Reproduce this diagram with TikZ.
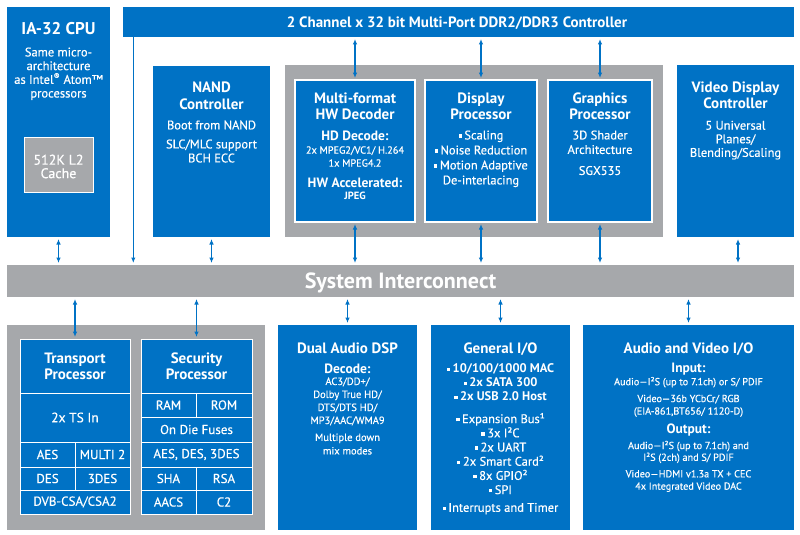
\documentclass[tikz,border=0pt]{standalone}
\usepackage{fontspec}
\setmainfont{PT Sans}
\newfontfamily\rg{PT Sans}[FakeBold=0.4]
\usetikzlibrary{arrows.meta}
\definecolor{iblue}{RGB}{0,114,197}
\definecolor{igray}{RGB}{166,168,171}
\newcommand\fs[2]{\fontsize{#1}{#2}\selectfont}
\newcommand\sqbul{\rule[0.14em]{0.26em}{0.26em}\hspace{0.2em}}
\tikzset{
  box/.style={fill=iblue, inner sep=0pt, outer sep=0pt},
  gbox/.style={fill=igray, inner sep=0pt, outer sep=0pt},
  wbord/.style={draw=white, line width=1.2pt},
  tx/.style={text=white, inner sep=0pt, outer sep=0pt, align=center},
  cell/.style={fill=iblue, draw=white, line width=1pt, inner sep=0pt, outer sep=0pt, text=white, align=center, font={\rg\fs{13}{15}}},
  bi/.style={draw=iblue, line width=1.2pt, {Latex[length=5.5pt,width=4.5pt]}-{Latex[length=5.5pt,width=4.5pt]}, shorten <=2pt, shorten >=2pt},
  uni/.style={draw=iblue, line width=1.2pt, -{Latex[length=5.5pt,width=4.5pt]}, shorten >=2pt}
}
\begin{document}
\begin{tikzpicture}[x=1pt,y=-1pt]
\useasboundingbox[fill=white] (0,0) rectangle (800,535);
% ---------- boxes
\node[box, minimum width=103pt, minimum height=230pt] (cpu) at (58.5,122) {};
\node[gbox, wbord, line width=1pt, minimum width=69pt, minimum height=55pt] (cache) at (58.5,164.5) {};
\node[box, minimum width=671pt, minimum height=30pt] (ddr) at (458.5,22) {};
\node[box, minimum width=117pt, minimum height=171pt] (nand) at (211.5,151.5) {};
\node[gbox, minimum width=378pt, minimum height=172pt] (mid) at (474,151) {};
\node[box, wbord, minimum width=120pt, minimum height=142pt] (mfd) at (355,151) {};
\node[box, wbord, minimum width=112pt, minimum height=142pt] (disp) at (481,151) {};
\node[box, wbord, minimum width=104pt, minimum height=142pt] (gfx) at (600,151) {};
\node[box, minimum width=117pt, minimum height=172pt] (vdc) at (735.5,151) {};
\node[gbox, minimum width=787pt, minimum height=32pt] (sys) at (400.5,281) {};
\node[gbox, minimum width=258pt, minimum height=205pt] (low) at (136,427.5) {};
\node[box, minimum width=139pt, minimum height=205pt] (dsp) at (347.5,427.5) {};
\node[box, minimum width=139pt, minimum height=205pt] (gio) at (500.5,427.5) {};
\node[box, minimum width=211pt, minimum height=205pt] (avio) at (688.5,427.5) {};
% ---------- transport processor cells
\node[cell, font={\fs{15}{16}\bfseries}, minimum width=110pt, minimum height=54pt] (tph) at (75,366) {Transport\\Processor};
\node[cell, font={\rg\fs{13.5}{15}}, minimum width=110pt, minimum height=49pt] (tpts) at (75,417.5) {2x TS In};
\node[cell, minimum width=55pt, minimum height=25pt] (aes) at (47.5,454.5) {AES};
\node[cell, minimum width=55pt, minimum height=25pt] (multi) at (102.5,454.5) {MULTI 2};
\node[cell, minimum width=55pt, minimum height=23pt] (des) at (47.5,478.5) {DES};
\node[cell, minimum width=55pt, minimum height=23pt] (tdes) at (102.5,478.5) {3DES};
\node[cell, minimum width=110pt, minimum height=24pt] (dvb) at (75,502) {DVB-CSA/CSA2};
% ---------- security processor cells
\node[cell, font={\fs{15}{16}\bfseries}, minimum width=111pt, minimum height=54pt] (sph) at (196.5,366) {Security\\Processor};
\node[cell, minimum width=55pt, minimum height=24pt] (ram) at (168.5,405) {RAM};
\node[cell, minimum width=56pt, minimum height=24pt] (rom) at (224,405) {ROM};
\node[cell, minimum width=111pt, minimum height=25pt] (fuse) at (196.5,429.5) {On Die Fuses};
\node[cell, minimum width=111pt, minimum height=25pt] (saes) at (196.5,454.5) {AES, DES, 3DES};
\node[cell, minimum width=55pt, minimum height=23pt] (sha) at (168.5,478.5) {SHA};
\node[cell, minimum width=56pt, minimum height=23pt] (rsa) at (224,478.5) {RSA};
\node[cell, minimum width=55pt, minimum height=24pt] (aacs) at (168.5,502) {AACS};
\node[cell, minimum width=56pt, minimum height=24pt] (c2) at (224,502) {C2};
% ---------- texts
\node[tx, font={\fs{17}{20}\bfseries}, anchor=base] (cpuT) at (58.5,35) {IA-32 CPU};
\node[tx, font={\rg\fs{12.5}{13.7}}, anchor=north] (cpuB) at (58.5,47.5) {Same micro-\\architecture\\as Intel\textsuperscript{®} Atom™\\processors};
\node[tx, font={\rg\fs{14}{13.5}}] (cacheT) at (58.5,166.5) {512K L2\\Cache};
\node[tx, font={\fs{15}{16}\bfseries}, anchor=base] (ddrT) at (457,27.5) {2 Channel x 32 bit Multi-Port DDR2/DDR3 Controller};
\node[tx, font={\fs{22}{24}\bfseries}, anchor=base] (sysT) at (400.5,288.5) {System Interconnect};
\node[tx, font={\fs{15}{16.5}\bfseries}, anchor=north] (nandT) at (211.5,82) {NAND\\Controller};
\node[tx, font={\rg\fs{12.5}{14}}, anchor=north] (nandB) at (211.5,120.5) {Boot from NAND\\[5pt]SLC/MLC support\\BCH ECC};
\node[tx, font={\fs{15}{16}\bfseries}, anchor=north] (mfdT) at (355,92.6) {Multi-format\\HW Decoder};
\node[tx, font={\fs{13.5}{15}\bfseries}, anchor=base] (mfdA) at (355,140) {HD Decode:};
\node[tx, font={\rg\fs{10.3}{13}}, anchor=north] (mfdB) at (355,146.3) {2x MPEG2/VC1/ H.264\\1x MPEG4.2};
\node[tx, font={\fs{13.5}{15}\bfseries}, anchor=base] (mfdC) at (355,187) {HW Accelerated:};
\node[tx, font={\fs{10.5}{12}\bfseries}, anchor=base] (mfdD) at (355,199.7) {JPEG};
\node[tx, font={\fs{15}{16}\bfseries}, anchor=north] (dispT) at (481,92.6) {Display\\Processor};
\node[tx, font={\rg\fs{12.5}{15}}, anchor=north] (dispB) at (481,130.5) {\sqbul Scaling\\\sqbul Noise Reduction\\\sqbul Motion Adaptive\\De-interlacing};
\node[tx, font={\fs{15}{16}\bfseries}, anchor=north] (gfxT) at (600,92.6) {Graphics\\Processor};
\node[tx, font={\rg\fs{12.5}{14.5}}, anchor=north] (gfxB) at (600,130.5) {3D Shader\\Architecture\\[6.5pt]SGX535};
\node[tx, font={\fs{15}{16.5}\bfseries}, anchor=north] (vdcT) at (735.5,81.6) {Video Display\\Controller};
\node[tx, font={\rg\fs{12.5}{13.6}}, anchor=north] (vdcB) at (735.5,120.8) {5 Universal\\Planes/\\Blending/Scaling};
\node[tx, font={\fs{15}{16}\bfseries}, anchor=base] (dspT) at (347.5,353.3) {Dual Audio DSP};
\node[tx, font={\fs{13.5}{15}\bfseries}, anchor=base] (dspA) at (347.5,373.7) {Decode:};
\node[tx, font={\rg\fs{10.5}{13}}, anchor=north] (dspB) at (347.5,377.5) {AC3/DD+/\\Dolby True HD/\\DTS/DTS HD/\\MP3/AAC/WMA9};
\node[tx, font={\rg\fs{10.5}{13.5}}, anchor=north] (dspC) at (347.5,433.5) {Multiple down\\mix modes};
\node[tx, font={\fs{15}{16}\bfseries}, anchor=base] (gioT) at (500.5,353.3) {General I/O};
\node[tx, font={\fs{12.5}{14}\bfseries}, anchor=north] (gioA) at (500.5,363.8) {\sqbul 10/100/1000 MAC\\\sqbul 2x SATA 300\\\sqbul 2x USB 2.0 Host};
\node[tx, font={\rg\fs{12.5}{14.2}}, anchor=north] (gioB) at (500.5,413) {\sqbul Expansion Bus¹\\\sqbul 3x I²C\\\sqbul 2x UART\\\sqbul 2x Smart Card²\\\sqbul 8x GPIO²\\\sqbul SPI\\[3.5pt]\sqbul Interrupts and Timer};
\node[tx, font={\fs{15}{16}\bfseries}, anchor=base] (avT) at (688.5,353.3) {Audio and Video I/O};
\node[tx, font={\fs{13.5}{15}\bfseries}, anchor=base] (avA) at (688.5,372.7) {Input:};
\node[tx, font={\rg\fs{10.2}{12}}, anchor=base] (avB) at (688.5,385.2) {Audio—I²S (up to 7.1ch) or S/ PDIF};
\node[tx, font={\rg\fs{10.2}{12.5}}, anchor=north] (avC) at (688.5,394.8) {Video—36b YCbCr/ RGB\\(EIA-861,BT656/ 1120-D)};
\node[tx, font={\fs{13.5}{15}\bfseries}, anchor=base] (avD) at (688.5,433.2) {Output:};
\node[tx, font={\rg\fs{10.2}{11.8}}, anchor=north] (avE) at (688.5,440.8) {Audio—I²S (up to 7.1ch) and\\I²S (2ch) and S/ PDIF};
\node[tx, font={\rg\fs{10.2}{12.3}}, anchor=north] (avF) at (688.5,470.1) {Video—HDMI v1.3a TX + CEC\\4x Integrated Video DAC};
% ---------- connectors
\coordinate (tap) at (133.3,37);
\draw[uni] (tap) -- (tap |- sys.north);
\draw[bi] (cpu.south) -- (cpu.south |- sys.north);
\draw[bi] (nand.south) -- (nand.south |- sys.north);
\draw[bi] (mfd.south) -- (mfd.south |- sys.north);
\draw[bi] (disp.south) -- (disp.south |- sys.north);
\draw[bi] (gfx.south) -- (gfx.south |- sys.north);
\draw[bi] ([xshift=2.5pt]vdc.south) -- ([xshift=2.5pt]vdc.south |- sys.north);
\draw[bi] (mfd.north |- ddr.south) -- (mfd.north);
\draw[bi] (disp.north |- ddr.south) -- (disp.north);
\draw[bi] (gfx.north |- ddr.south) -- (gfx.north);
\draw[bi] (tph.north |- sys.south) -- (tph.north);
\draw[bi] (sph.north |- sys.south) -- (sph.north);
\draw[bi] (dsp.north |- sys.south) -- (dsp.north);
\draw[bi] (gio.north |- sys.south) -- (gio.north);
\draw[bi] (avio.north |- sys.south) -- (avio.north);
\end{tikzpicture}
\end{document}
